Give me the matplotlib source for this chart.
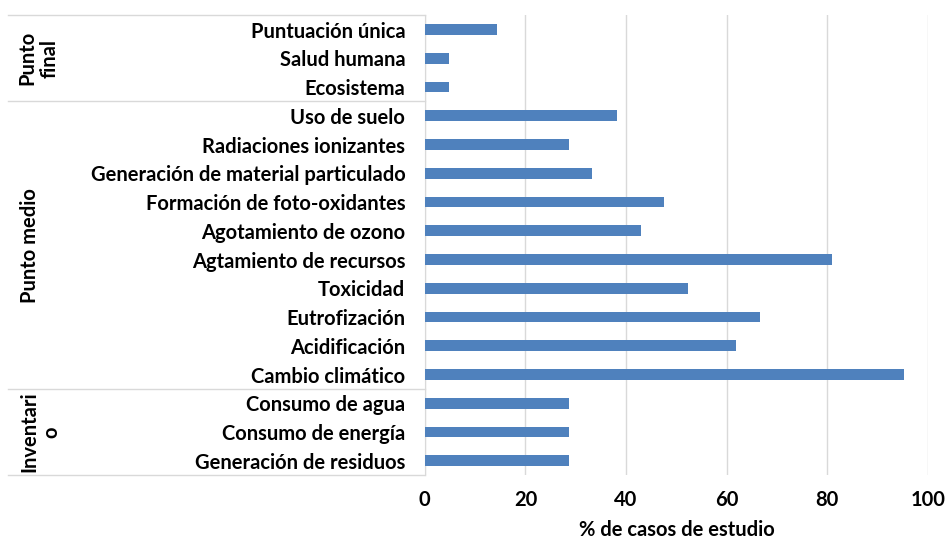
import matplotlib.pyplot as plt
import matplotlib.transforms as mtransforms

categories = [
    "Puntuación única", "Salud humana", "Ecosistema",
    "Uso de suelo", "Radiaciones ionizantes", "Generación de material particulado",
    "Formación de foto-oxidantes", "Agotamiento de ozono", "Agtamiento de recursos",
    "Toxicidad", "Eutrofización", "Acidificación", "Cambio climático",
    "Consumo de agua", "Consumo de energía", "Generación de residuos",
]
values = [14.3, 4.8, 4.8,
          38.1, 28.6, 33.3, 47.6, 42.9, 81.0, 52.4, 66.7, 61.9, 95.2,
          28.6, 28.6, 28.6]
groups = ["Punto\nfinal", "Punto medio", "Inventari\no"]
group_sizes = [3, 10, 3]
xticks = [0, 20, 40, 60, 80, 100]

plt.rcParams['font.family'] = ['Lato', 'DejaVu Sans']
plt.rcParams['font.weight'] = 'bold'
fs = 14.5

fig = plt.figure(figsize=(9.46, 5.43), dpi=100)
ax = fig.add_axes([0.449, 0.125, 0.532, 0.847])

n = len(categories)
ypos = list(range(n - 1, -1, -1))
ax.barh(ypos, values, height=0.37, color='#4f81bd', zorder=3)

ax.set_ylim(-0.5, n - 0.5)
ax.set_xlim(0, 100)
ax.set_xticks(xticks)
ax.set_xticklabels([str(t) for t in xticks], fontsize=fs, fontweight='bold')
ax.set_yticks(ypos)
ax.set_yticklabels(categories, fontsize=fs, fontweight='bold')
ax.tick_params(axis='y', length=0, pad=14)
ax.tick_params(axis='x', length=0, pad=11)
ax.grid(axis='x', color='#d9d9d9', linewidth=1, zorder=0)
for s in ['top', 'right', 'bottom']:
    ax.spines[s].set_visible(False)
ax.spines['left'].set_color('#d9d9d9')
ax.set_xlabel('% de casos de estudio', fontsize=fs, fontweight='bold', labelpad=7)

# group brackets on the left
trans = mtransforms.blended_transform_factory(ax.transAxes, ax.transData)
x_left = (8 - 425) / 503
top = n - 0.5
ax.plot([x_left, 0], [top, top], color='#d9d9d9', lw=1, transform=trans, clip_on=False)
label_x = [39, 30, 41]
for g, size, lx in zip(groups, group_sizes, label_x):
    bottom = top - size
    ax.plot([x_left, 0], [bottom, bottom], color='#d9d9d9', lw=1,
            transform=trans, clip_on=False)
    ax.text((lx - 425) / 503, (top + bottom) / 2, g, rotation=90,
            ha='center', va='center', fontsize=fs, fontweight='bold',
            multialignment='center', linespacing=1.1, transform=trans)
    top = bottom

fig.savefig('out.png', dpi=100)
